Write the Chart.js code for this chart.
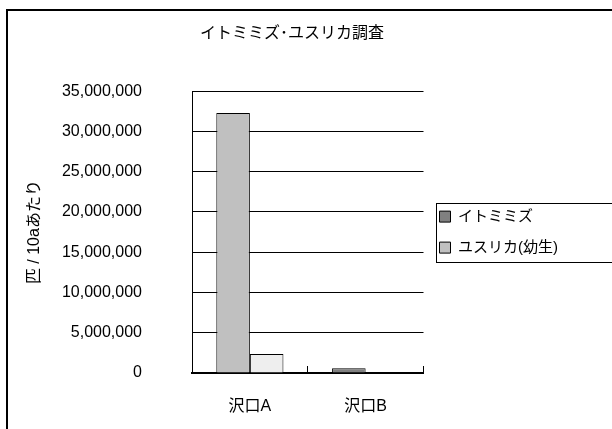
<!DOCTYPE html>
<html>
<head>
<meta charset="utf-8">
<script src="https://cdn.jsdelivr.net/npm/chart.js@4.4.0/dist/chart.umd.min.js"></script>
<style>
  body { margin: 0; background: #fff; }
  #chart { display: block; }
</style>
</head>
<body>
<canvas id="chart" width="612" height="429"></canvas>
<script>
// ------------------------------------------------------------
// data
// ------------------------------------------------------------
var categories   = ['沢口A', '沢口B'];
var seriesNames  = ['イトミミズ', 'ユスリカ(幼生)'];
var itomimizu    = [32300000, 600000];
var yusurika     = [2350000, 0];
var yMin = 0, yMax = 35000000, yStep = 5000000;

// per-bar fills as in the original sheet, legend swatches separately
var itomimizuFill = ['#c0c0c0', '#808080'];
var yusurikaFill  = ['#eeeeee', '#c0c0c0'];
var legendFill    = ['#808080', '#c0c0c0'];

var FONT = '"Liberation Sans", "Noto Sans CJK JP", sans-serif';

// white background, outer frame and the box round the legend
var framePlugin = {
  id: 'frame',
  beforeDraw: function(chart) {
    var ctx = chart.ctx;
    ctx.save();
    ctx.fillStyle = '#fff';
    ctx.fillRect(0, 0, chart.width, chart.height);
    ctx.restore();
  },
  afterDraw: function(chart) {
    var ctx = chart.ctx;
    var lg = chart.legend;
    ctx.save();
    ctx.strokeStyle = '#000';
    ctx.lineWidth = 2;
    ctx.strokeRect(7, 10, chart.width + 20, chart.height + 20);
    if (lg) {
      var cy = (lg.top + lg.bottom) / 2;
      ctx.lineWidth = 1;
      ctx.strokeRect(Math.round(lg.left) + 12.5, Math.round(cy - 29) + 0.5, chart.width, 59);
    }
    ctx.restore();
  }
};

new Chart(document.getElementById('chart'), {
  type: 'bar',
  data: {
    labels: categories,
    datasets: [
      {
        label: seriesNames[0],
        data: itomimizu,
        backgroundColor: itomimizuFill,
        borderColor: '#000',
        borderWidth: 1,
        categoryPercentage: 0.58,
        barPercentage: 1.0
      },
      {
        label: seriesNames[1],
        data: yusurika,
        backgroundColor: yusurikaFill,
        borderColor: '#000',
        borderWidth: 1,
        categoryPercentage: 0.58,
        barPercentage: 1.0
      }
    ]
  },
  options: {
    responsive: false,
    animation: false,
    layout: { padding: { left: 16, right: 44, top: 10, bottom: 15 } },
    plugins: {
      title: {
        display: true,
        text: 'イトミミズ･ユスリカ調査',
        color: '#000',
        font: { family: FONT, size: 16, weight: 'normal' },
        padding: { top: 14, bottom: 48 }
      },
      legend: {
        position: 'right',
        fullSize: false,
        maxWidth: 220,
        labels: {
          boxWidth: 11,
          boxHeight: 11,
          padding: 16,
          color: '#000',
          font: { family: FONT, size: 15 },
          generateLabels: function(chart) {
            return chart.data.datasets.map(function(ds, i) {
              return {
                text: ds.label,
                fillStyle: legendFill[i],
                strokeStyle: '#000',
                lineWidth: 1,
                fontColor: '#000',
                datasetIndex: i
              };
            });
          }
        }
      },
      tooltip: { enabled: false }
    },
    scales: {
      x: {
        grid: { drawOnChartArea: false, drawTicks: true, tickLength: -7, color: '#000', offset: true },
        border: { color: '#000', width: 2 },
        ticks: { color: '#000', font: { family: FONT, size: 16 }, padding: 31 },
        afterFit: function(scale) { scale.height = 41; }
      },
      y: {
        min: yMin,
        max: yMax,
        ticks: {
          stepSize: yStep,
          color: '#000',
          font: { family: FONT, size: 16 },
          padding: 4,
          callback: function(v) { return Number(v).toLocaleString('en-US'); }
        },
        // long invisible tick marks keep the labels well left of the axis
        grid: { color: '#000', drawTicks: true, tickLength: 46, tickColor: 'rgba(0,0,0,0)' },
        border: { color: '#000', width: 1 },
        title: {
          display: true,
          text: '匹 / 10aあたり',
          color: '#000',
          font: { family: FONT, size: 16 },
          padding: { top: 9, bottom: 0 }
        },
        afterFit: function(scale) { scale.width = 176; }
      }
    }
  },
  plugins: [framePlugin]
});
</script>
</body>
</html>
